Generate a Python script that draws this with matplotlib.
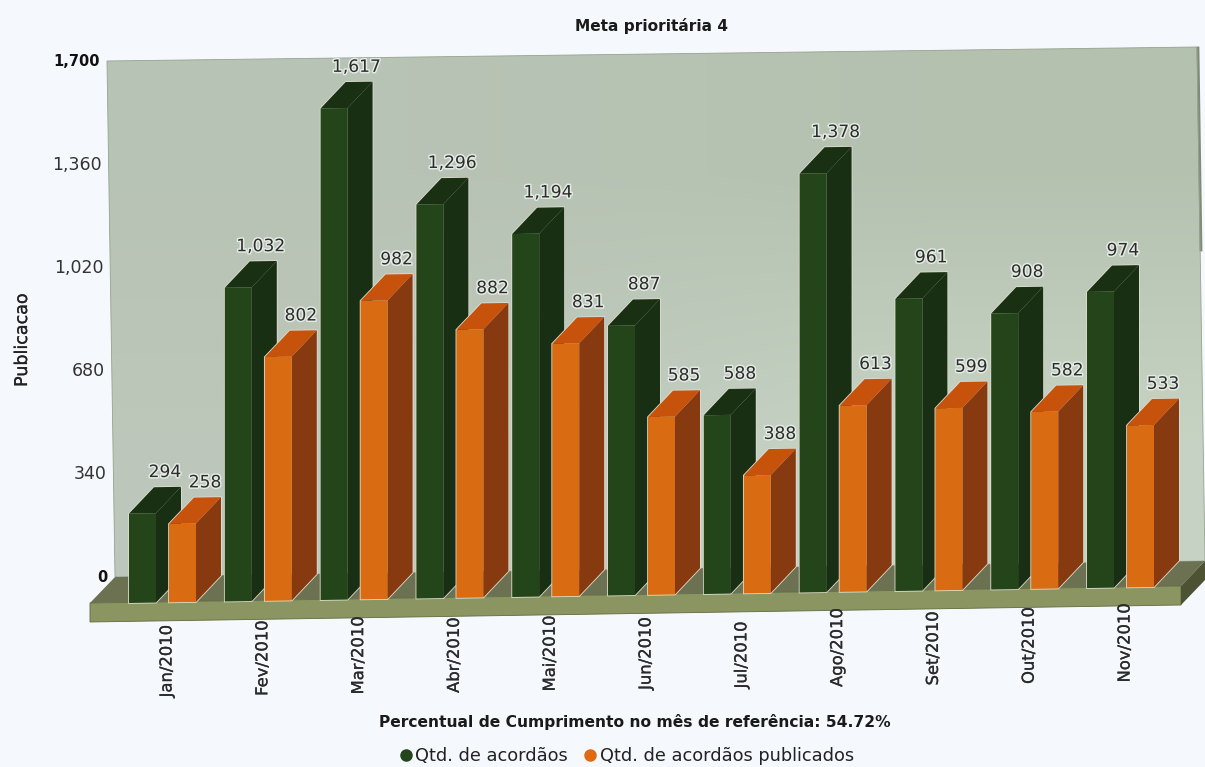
import matplotlib
matplotlib.use("Agg")
import matplotlib.pyplot as plt
import matplotlib.patheffects as pe
from matplotlib.lines import Line2D
from matplotlib.patches import Polygon
from matplotlib.transforms import Affine2D
import numpy as np

meses = ["Jan/2010", "Fev/2010", "Mar/2010", "Abr/2010", "Mai/2010", "Jun/2010",
         "Jul/2010", "Ago/2010", "Set/2010", "Out/2010", "Nov/2010"]
acordaos = [294, 1032, 1617, 1296, 1194, 887, 588, 1378, 961, 908, 974]
publicados = [258, 802, 982, 882, 831, 585, 388, 613, 599, 582, 533]
y_ticks = [0, 340, 680, 1020, 1360, 1700]

W, H = 1205, 767
X0, Y0 = 129.0, 603.0       # pixel of first green bar foot
STEP = 95.8                 # pixels per month
SCALE = 0.304               # pixels per unit
SLOPE = 0.0156 * STEP / SCALE   # rise of the floor, units per month
BAR_W = 27 / STEP
DX, DY = 25 / STEP, 26 / SCALE
GAP = 40 / STEP
TXT = [pe.withStroke(linewidth=0.2, foreground="#333333")]


def px(x, y):
    # picture pixel -> data coords, only for the decoration
    return ((x - X0) / STEP, (Y0 - y) / SCALE)


fig = plt.figure(figsize=(W / 100, H / 100), dpi=100, facecolor="#f5f8fc")
ax = fig.add_axes([0, 0, 1, 1])
ax.set_xlim(px(0, 0)[0], px(W, 0)[0])
ax.set_ylim(px(0, H)[1], px(0, 0)[1])
ax.axis("off")

skew = Affine2D.from_values(1, SLOPE, 0, 1, 0, 0) + ax.transData

# wall with a soft gradient
ax.plot(*zip(px(1198, 48), px(1201, 250)), color="#7f8a78", lw=2, zorder=0.5)
wall = Polygon([px(107, 61), px(1197, 47), px(1205, 561), px(115, 577)],
               closed=True, fc="none", ec="#97a28f", lw=0.6, zorder=1)
ax.add_patch(wall)
grad = np.array([[[0.72, 0.765, 0.71], [0.71, 0.76, 0.69]],
                 [[0.74, 0.78, 0.73], [0.78, 0.83, 0.77]]])
xa, ya = px(100, 40)
xb, yb = px(1205, 580)
im = ax.imshow(grad, extent=(xa, xb, yb, ya), aspect="auto", interpolation="bilinear", zorder=0)
im.set_clip_path(wall)

# floor
ax.add_patch(Polygon([px(90, 603), px(115, 577), px(1205, 561), px(1181, 586)], fc="#6c7152", zorder=2))
ax.add_patch(Polygon([px(90, 603), px(1181, 586), px(1181, 605), px(90, 622)], fc="#8b9562", ec="#5f6a40", lw=0.6, zorder=2))
ax.add_patch(Polygon([px(1181, 586), px(1205, 561), px(1205, 580), px(1181, 605)], fc="#4c5233", zorder=2))


def barras(xs, vals, front, side, top, z):
    ax.bar(xs, vals, width=BAR_W, align="edge", color=front, transform=skew, zorder=z + 0.2)
    for x, v in zip(xs, vals):
        ax.add_patch(Polygon([(x + BAR_W, 0), (x + BAR_W + DX, DY), (x + BAR_W + DX, v + DY), (x + BAR_W, v)],
                             fc=side, transform=skew, zorder=z + 0.1))
        ax.add_patch(Polygon([(x, v), (x + DX, v + DY), (x + BAR_W + DX, v + DY), (x + BAR_W, v)],
                             fc=top, transform=skew, zorder=z + 0.1))
        # pale rim around the bar
        ax.add_patch(Polygon([(x, 0), (x, v), (x + DX, v + DY), (x + BAR_W + DX, v + DY), (x + BAR_W + DX, DY), (x + BAR_W, 0)],
                             fc="none", ec="#dedccf", lw=1.2, transform=skew, zorder=z))
        ax.text(x + 36 / STEP, v + DY + 15 / SCALE, f"{v:,}", transform=skew, ha="center", va="center",
                fontsize=12.3, color="#2c2c2c", zorder=30,
                path_effects=[pe.withStroke(linewidth=2.2, foreground="#e4eae4")])


pos = np.arange(len(meses), dtype=float)
for i in range(len(meses)):
    barras([pos[i]], [acordaos[i]], "#24451a", "#182f14", "#1a3012", 5 + 2 * i)
    barras([pos[i] + GAP], [publicados[i]], "#d96c12", "#873a10", "#c6520c", 6 + 2 * i)

# month labels, they follow the floor
for i, m in enumerate(meses):
    ax.text(pos[i] + 38 / STEP, -95 / SCALE, m, transform=skew, rotation=90, ha="center", va="bottom",
            fontsize=11.8, color="#2a2a2a", path_effects=TXT)

# value axis along the left edge of the wall
for v in y_ticks:
    py = 577 - v * 0.303
    wx = 115 - 8 * v / 1700
    tx, ty = px(wx - 7, py)
    bold = v in (0, 1700)
    ax.text(tx, ty, f"{v:,}", ha="right", va="center", fontsize=10.5 if bold else 12.5,
            fontweight="bold" if bold else "normal", color="#111111" if bold else "#333333")

ax.text(*px(22, 340), "Publicacao", rotation=90, ha="center", va="center", fontsize=12.6, color="#222222", path_effects=TXT)
ax.text(*px(652, 26), "Meta prioritária 4", ha="center", va="center", fontsize=11.1, fontweight="bold", color="#1a1a1a")
ax.text(*px(635, 722), "Percentual de Cumprimento no mês de referência: 54.72%", ha="center", va="center",
        fontsize=11.2, fontweight="bold", color="#1a1a1a")

handles = [Line2D([], [], ls="", marker="o", ms=8, color="#24451a"),
           Line2D([], [], ls="", marker="o", ms=8, color="#e06a12")]
ax.legend(handles, ["Qtd. de acordãos", "Qtd. de acordãos publicados"], ncols=2, frameon=False,
          loc="center", bbox_to_anchor=(626 / W, 1 - 756 / H), fontsize=12.8, labelcolor="#222222",
          handletextpad=0.1, columnspacing=0.8, handlelength=0.9)

ax.set_xlim(px(0, 0)[0], px(W, 0)[0])
ax.set_ylim(px(0, H)[1], px(0, 0)[1])
fig.savefig("out.png", dpi=100, facecolor=fig.get_facecolor())
